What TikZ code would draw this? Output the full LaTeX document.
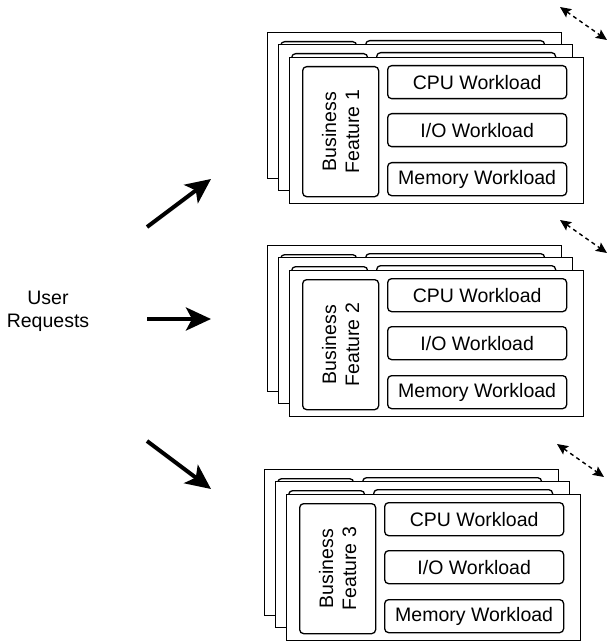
\documentclass[tikz,border=0pt]{standalone}
\usepackage{fontspec}
\setmainfont{Liberation Sans}
\usetikzlibrary{arrows.meta}
\newcommand\lbl{\fontsize{19.5bp}{23bp}\selectfont}
\tikzset{
  layer/.style={draw, fill=white, line width=1.3bp, minimum width=294bp, minimum height=146bp, anchor=north west, inner sep=0pt},
  rbox/.style={draw, fill=white, rounded corners=4bp, line width=1.3bp, anchor=north west, inner sep=0pt},
  wl/.style={rbox, minimum width=179bp, minimum height=33bp, font=\lbl},
  biz/.style={rbox, minimum width=76bp, minimum height=130bp},
  dasharr/.style={line width=1.4bp, dash pattern=on 4bp off 3.5bp, {Stealth[length=11bp,width=10bp,inset=2bp]}-{Stealth[length=11bp,width=10bp,inset=2bp]}},
  bigarr/.style={line width=4bp, -{Stealth[length=25bp,width=23bp,inset=6bp]}},
}
\newcommand\emptylayer[3]{%
  \begin{scope}[shift={(#2,#3)}]
    \node[layer] (#1) at (0,0) {};
    \node[biz] (#1biz) at (13,9) {};
    \node[wl] (#1cpu) at (98,8) {};
    \node[wl] (#1io) at (98,56) {};
    \node[wl] (#1mem) at (98,105) {};
  \end{scope}}
\newcommand\featgroup[3]{%
  \begin{scope}[shift={(#2,#3)}]
    \emptylayer{g#1back}{-22}{-25}
    \emptylayer{g#1mid}{-11}{-13}
    \node[layer] (g#1front) at (0,0) {};
    \node[biz] (g#1biz) at (13,9) {};
    \node[rotate=90, align=center, font=\lbl] (g#1biztext) at (g#1biz.center) {Business\\Feature #1};
    \node[wl] (g#1cpu) at (98,8) {CPU Workload};
    \node[wl] (g#1io) at (98,56) {I/O Workload};
    \node[wl] (g#1mem) at (98,105) {Memory Workload};
    \coordinate (g#1da) at (271,-50);
    \coordinate (g#1db) at (318,-17);
    \draw[dasharr] (g#1da) -- (g#1db);
  \end{scope}}
\begin{document}
\begin{tikzpicture}[x=1bp, y=-1bp]
  \useasboundingbox (0,0) rectangle (609,641);
  \featgroup{1}{289}{57}
  \featgroup{2}{289}{270}
  \featgroup{3}{286}{494}
  \node[align=center, font=\lbl] (users) at (48,311) {User\\Requests};
  \coordinate (a1s) at (147,227);
  \coordinate (a1e) at (211,179);
  \coordinate (a2s) at (147,319);
  \coordinate (a2e) at (211,319);
  \coordinate (a3s) at (147,441);
  \coordinate (a3e) at (211,489);
  \draw[bigarr] (a1s) -- (a1e);
  \draw[bigarr] (a2s) -- (a2e);
  \draw[bigarr] (a3s) -- (a3e);
\end{tikzpicture}
\end{document}
